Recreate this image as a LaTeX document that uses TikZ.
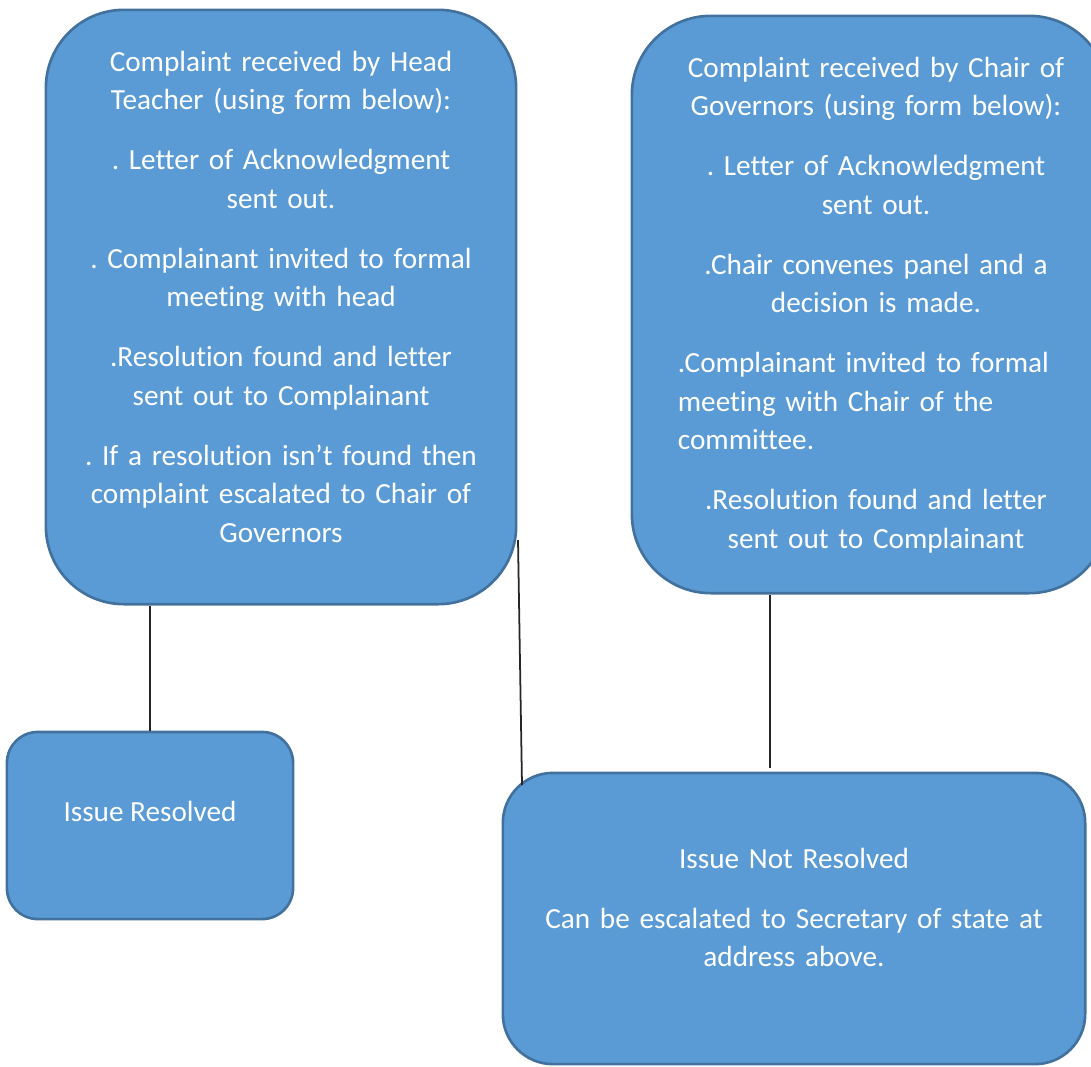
\documentclass[tikz,border=0pt]{standalone}
\usepackage{fontspec}
\setmainfont{Carlito}[RawFeature={-liga;-clig;-calt;-rlig}]
\frenchspacing
\definecolor{boxfill}{HTML}{5B9BD5}
\definecolor{boxline}{HTML}{41719C}
\tikzset{
  box/.style={draw=boxline, fill=boxfill, line width=0.75pt, inner sep=0pt},
  txt/.style={text=white, inner sep=0pt, anchor=base,
    font=\fontsize{8.31}{10.96}\selectfont,
    execute at begin node=\setlength{\parskip}{6.1pt}},
  link/.style={draw=black!85, line width=0.5pt},
}
\begin{document}
\begin{tikzpicture}[x=0.01cm, y=-0.01cm]
  \useasboundingbox (0,0) rectangle (1091,1066);
  \node[box, rounded corners=0.78cm, minimum width=4.70cm, minimum height=5.94cm] (head) at (281,307) {};
  \node[box, rounded corners=0.79cm, minimum width=4.76cm, minimum height=5.77cm] (chair) at (870,304.5) {};
  \node[box, rounded corners=0.31cm, minimum width=2.86cm, minimum height=1.87cm] (resolved) at (150,825.5) {};
  \node[box, rounded corners=0.50cm, minimum width=5.82cm, minimum height=2.91cm] (notresolved) at (794,918.5) {};

  \node[txt, text width=4.3cm] (headtxt) at (281,71) {\centering
    Complaint received by Head\\ Teacher (using form below):\par
    . Letter of Acknowledgment\\ sent out.\par
    . Complainant invited to formal\\ meeting with head\par
    .Resolution found and letter\\ sent out to Complainant\par
    . If a resolution isn’t found then\\ complaint escalated to Chair of\\ Governors\par};
  \node[txt, text width=3.96cm] (chairtxt) at (876,77) {\centering
    Complaint received by Chair of\\ Governors (using form below):\par
    . Letter of Acknowledgment\\ sent out.\par
    .Chair convenes panel and a\\ decision is made.\par
    \raggedright .Complainant invited to formal\\ meeting with Chair of the\\ committee.\par
    \centering .Resolution found and letter\\ sent out to Complainant\par};
  \node[txt] (resolvedtxt) at (150,821) {Issue Resolved};
  \node[txt, text width=5.4cm] (notresolvedtxt) at (794,868) {\centering
    Issue Not Resolved\par
    Can be escalated to Secretary of state at\\ address above.\par};

  \coordinate (headside) at (518,540);
  \coordinate (notresolvedcorner) at (522,785);
  \coordinate (chairgap) at (770,768);
  \begin{scope}[link]
    \draw (resolved.north |- head.south) -- (resolved.north);
    \draw (headside) -- (notresolvedcorner);
    \draw (chairgap |- chair.south) -- (chairgap);
  \end{scope}
\end{tikzpicture}
\end{document}
